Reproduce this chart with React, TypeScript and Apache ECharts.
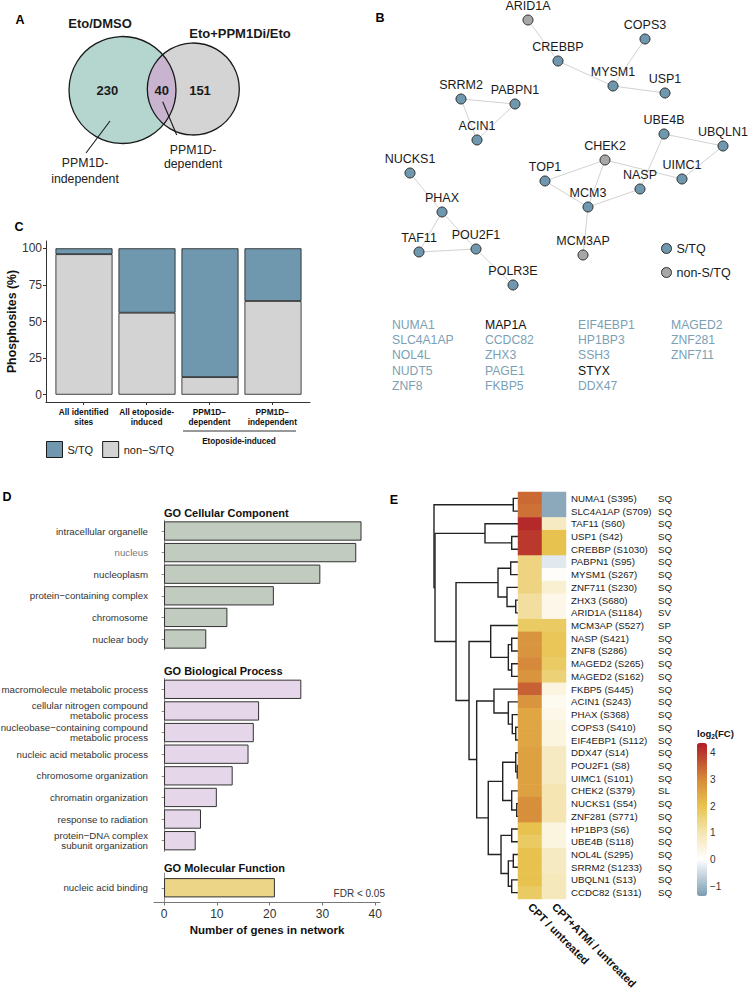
import React, { useEffect, useRef } from "react";
import * as echarts from "echarts";

const FONT = '"Liberation Sans", Arial, Helvetica, sans-serif';

/* ---------------- Panel A: Venn ---------------- */
const vennSetNames = ["Eto/DMSO", "Eto+PPM1Di/Eto"];
const vennRegionCounts = [230, 40, 151];
const vennNotes = ["PPM1D-\nindependent", "PPM1D-\ndependent"];

/* ---------------- Panel B: network ---------------- */
const netGenes = ["ARID1A", "COPS3", "CREBBP", "MYSM1", "USP1", "SRRM2", "PABPN1", "ACIN1", "UBE4B", "UBQLN1", "CHEK2", "TOP1", "UIMC1", "NASP", "MCM3", "MCM3AP", "NUCKS1", "PHAX", "TAF11", "POU2F1", "POLR3E"];
const netLayoutX = [158, 275, 188, 243, 295, 91, 145, 107, 294, 353, 235, 175, 312, 270, 218, 213, 40, 72, 49, 106, 143];
const netLayoutY = [20, 39, 61, 86, 93, 99, 104, 140, 134, 146, 160, 181, 179, 189, 207, 255, 173, 212, 252, 249, 285];
const netSiteType = ["non-S/TQ", "S/TQ", "S/TQ", "S/TQ", "S/TQ", "S/TQ", "S/TQ", "S/TQ", "S/TQ", "S/TQ", "non-S/TQ", "S/TQ", "S/TQ", "S/TQ", "S/TQ", "non-S/TQ", "S/TQ", "S/TQ", "S/TQ", "S/TQ", "S/TQ"];
const netEdges = [
  ["ARID1A", "CREBBP"], ["CREBBP", "MYSM1"], ["MYSM1", "COPS3"], ["MYSM1", "USP1"],
  ["SRRM2", "PABPN1"], ["SRRM2", "ACIN1"], ["PABPN1", "ACIN1"],
  ["UBE4B", "UBQLN1"], ["UBE4B", "NASP"], ["UBQLN1", "UIMC1"],
  ["CHEK2", "TOP1"], ["CHEK2", "MCM3"], ["CHEK2", "UIMC1"], ["TOP1", "MCM3"], ["MCM3", "NASP"], ["MCM3", "MCM3AP"],
  ["NUCKS1", "PHAX"], ["PHAX", "TAF11"], ["PHAX", "POU2F1"], ["TAF11", "POU2F1"], ["POU2F1", "POLR3E"],
];
const netLegendNames = ["S/TQ", "non-S/TQ"];
const isolatedGenes = ["NUMA1", "SLC4A1AP", "NOL4L", "NUDT5", "ZNF8", "MAP1A", "CCDC82", "ZHX3", "PAGE1", "FKBP5", "EIF4EBP1", "HP1BP3", "SSH3", "STYX", "DDX47", "MAGED2", "ZNF281", "ZNF711"];
const isolatedSiteType = ["S/TQ", "S/TQ", "S/TQ", "S/TQ", "S/TQ", "non-S/TQ", "S/TQ", "S/TQ", "S/TQ", "S/TQ", "S/TQ", "S/TQ", "S/TQ", "non-S/TQ", "S/TQ", "S/TQ", "S/TQ", "S/TQ"];

/* ---------------- Panel C: stacked bars ---------------- */
const cCategories = ["All identified\nsites", "All etoposide-\ninduced", "PPM1D\u2212\ndependent", "PPM1D\u2212\nindependent"];
const cSTQ = [4, 44, 88, 36];
const cNonSTQ = [96, 56, 12, 64];
const cSeriesNames = ["S/TQ", "non\u2212S/TQ"];
const cYTicks = [0, 25, 50, 75, 100];
const cGroupLabel = "Etoposide-induced";

/* ---------------- Panel D: GO bars ---------------- */
const ccTitle = "GO Cellular Component";
const ccTerms = ["intracellular organelle", "nucleus", "nucleoplasm", "protein\u2212containing complex", "chromosome", "nuclear body"];
const ccCounts = [37.4, 36.4, 29.6, 20.8, 12, 8];
const bpTitle = "GO Biological Process";
const bpTerms = ["macromolecule metabolic process", "cellular nitrogen compound\nmetabolic process", "nucleobase\u2212containing compound\nmetabolic process", "nucleic acid metabolic process", "chromosome organization", "chromatin organization", "response to radiation", "protein\u2212DNA complex\nsubunit organization"];
const bpCounts = [26, 18, 17, 16, 13, 10, 7, 6];
const mfTitle = "GO Molecular Function";
const mfTerms = ["nucleic acid binding"];
const mfCounts = [21];
const dXTicks = [0, 10, 20, 30, 40];
const dNote = "FDR < 0.05";
const dXName = "Number of genes in network";

/* ---------------- Panel E: heatmap ---------------- */
const heatCols = ["CPT / untreated", "CPT+ATMi / untreated"];
const heatRows = ["NUMA1 (S395)", "SLC4A1AP (S709)", "TAF11 (S60)", "USP1 (S42)", "CREBBP (S1030)", "PABPN1 (S95)", "MYSM1 (S267)", "ZNF711 (S230)", "ZHX3 (S680)", "ARID1A (S1184)", "MCM3AP (S527)", "NASP (S421)", "ZNF8 (S286)", "MAGED2 (S265)", "MAGED2 (S162)", "FKBP5 (S445)", "ACIN1 (S243)", "PHAX (S368)", "COPS3 (S410)", "EIF4EBP1 (S112)", "DDX47 (S14)", "POU2F1 (S8)", "UIMC1 (S101)", "CHEK2 (S379)", "NUCKS1 (S54)", "ZNF281 (S771)", "HP1BP3 (S6)", "UBE4B (S118)", "NOL4L (S295)", "SRRM2 (S1233)", "UBQLN1 (S13)", "CCDC82 (S131)"];
const heatMotifs = ["SQ", "SQ", "SQ", "SQ", "SQ", "SQ", "SQ", "SQ", "SQ", "SV", "SP", "SQ", "SQ", "SQ", "SQ", "SQ", "SQ", "SQ", "SQ", "SQ", "SQ", "SQ", "SQ", "SL", "SQ", "SQ", "SQ", "SQ", "SQ", "SQ", "SQ", "SQ"];
const cptVals = [3.4, 3.3, 4.2, 4.0, 4.0, 1.5, 1.5, 1.5, 1.2, 1.2, 1.8, 2.8, 2.8, 3.0, 2.8, 3.5, 2.8, 2.5, 2.5, 2.5, 2.6, 2.6, 2.6, 2.6, 2.9, 2.9, 2.0, 1.8, 2.0, 2.0, 2.0, 1.8];
const atmiVals = [-1.2, -1.2, 0.8, 2.0, 2.0, -0.3, 0.05, 0.6, 0.3, 0.3, 1.8, 1.9, 1.9, 1.8, 1.6, 0.4, 0.2, 0.3, 0.4, 0.4, 0.8, 0.8, 0.8, 1.0, 1.0, 1.0, 0.4, 0.4, 0.8, 0.8, 0.9, 0.9];
// hclust-style merges: negative = leaf (row index + 1), positive = earlier merge id; [a, b, height]
const dendroMerges: [number, number, number][] = [
  [-1, -2, 0.56], [-4, -5, 0.75], [-3, 2, 3.93], [-6, -7, 0.87], [-9, -10, 0.27],
  [-8, 5, 1.31], [4, 6, 2.38], [-12, -13, 0.75], [-14, -15, 0.75], [8, 9, 1.15],
  [-11, 10, 3.25], [-19, -20, 0.27], [-18, 12, 0.68], [-17, 13, 1.15], [-16, 14, 2.86],
  [-22, -23, 0.08], [-21, 16, 0.27], [-25, -26, 0.15], [-24, 18, 0.75], [17, 19, 1.82],
  [-27, -28, 0.75], [-29, -30, 0.56], [-31, -32, 0.75], [22, 23, 1.15], [21, 24, 2.02],
  [20, 25, 3.54], [15, 26, 4.92], [11, 27, 5.83], [7, 28, 7.38], [3, 29, 9.88], [1, 30, 10],
];
const heatScaleMin = -1.37;
const heatScaleMax = 4.36;
const colorbarTicks = [-1, 0, 1, 2, 3, 4];
const colorbarTitle = "log{s|2}(FC)";

/* ---------------- styling helpers ---------------- */
const colorStops: [number, string][] = [
  [-1.37, "#7b9db2"], [0, "#ffffff"], [1, "#f4e5b3"], [2, "#e8c34d"], [3, "#d6893a"], [4.36, "#b01c27"],
];
function hexToRgb(h: string) {
  return [parseInt(h.slice(1, 3), 16), parseInt(h.slice(3, 5), 16), parseInt(h.slice(5, 7), 16)];
}
function colorAt(v: number) {
  for (let i = 0; i < colorStops.length - 1; i++) {
    const [v0, c0] = colorStops[i];
    const [v1, c1] = colorStops[i + 1];
    if (v <= v1 || i === colorStops.length - 2) {
      const t = Math.max(0, Math.min(1, (v - v0) / (v1 - v0)));
      const a = hexToRgb(c0), b = hexToRgb(c1);
      const m = a.map((x, k) => Math.round(x + (b[k] - x) * t));
      return `rgb(${m[0]},${m[1]},${m[2]})`;
    }
  }
  return colorStops[0][1];
}
function ramp(n: number) {
  const out: string[] = [];
  for (let i = 0; i < n; i++) out.push(colorAt(heatScaleMin + ((heatScaleMax - heatScaleMin) * i) / (n - 1)));
  return out;
}

const VC1 = { cx: 122.5, cy: 90, r: 53.5 };
const VC2 = { cx: 193.3, cy: 89, r: 46 };
function lensPath() {
  const dx = VC2.cx - VC1.cx, dy = VC2.cy - VC1.cy;
  const d = Math.hypot(dx, dy);
  const a = (d * d + VC1.r * VC1.r - VC2.r * VC2.r) / (2 * d);
  const h = Math.sqrt(VC1.r * VC1.r - a * a);
  const px = VC1.cx + (a * dx) / d, py = VC1.cy + (a * dy) / d;
  const ox = (-dy / d) * h, oy = (dx / d) * h;
  const p1 = [px + ox, py + oy], p2 = [px - ox, py - oy];
  const top = p1[1] < p2[1] ? p1 : p2;
  const bot = top === p1 ? p2 : p1;
  return `M${top[0]} ${top[1]} A${VC2.r} ${VC2.r} 0 0 0 ${bot[0]} ${bot[1]} A${VC1.r} ${VC1.r} 0 0 0 ${top[0]} ${top[1]} Z`;
}
echarts.graphic.registerShape("vennLens", echarts.graphic.extendPath(lensPath(), {}));

function txt(x: number, y: number, text: string, size: number, o: any = {}) {
  const align = o.align || "center";
  return {
    type: "text", x, y, silent: true, z: 10,
    style: {
      text, fontSize: size, fontFamily: FONT, fontWeight: o.weight || "normal", fill: o.color || "#1a1a1a",
      align, textAlign: align, verticalAlign: "middle", textVerticalAlign: "middle",
      lineHeight: o.lineHeight, rich: o.rich,
    },
  };
}

function dendroLines() {
  const nodeY: number[] = [];
  const nodeH: number[] = [];
  const pos = (ref: number) => (ref < 0 ? { y: -ref - 1, h: 0 } : { y: nodeY[ref - 1], h: nodeH[ref - 1] });
  const lines: any[] = [];
  dendroMerges.forEach(([a, b, h]) => {
    const A = pos(a), B = pos(b);
    lines.push({ coords: [[A.h, A.y], [h, A.y], [h, B.y], [B.h, B.y]] });
    nodeY.push((A.y + B.y) / 2);
    nodeH.push(h);
  });
  return lines;
}

function buildOption() {
  const STQ = "#6f97ad";
  const NONSTQ_NET = "#a7a7a7";
  const graphic: any[] = [];

  // panel letters
  graphic.push(txt(20, 20, "A", 12.5, { weight: "bold", color: "#000" }));
  graphic.push(txt(380, 18, "B", 12.5, { weight: "bold", color: "#000" }));
  graphic.push(txt(19, 227, "C", 12.5, { weight: "bold", color: "#000" }));
  graphic.push(txt(7, 497, "D", 12.5, { weight: "bold", color: "#000" }));
  graphic.push(txt(394, 500, "E", 12.5, { weight: "bold", color: "#000" }));

  // Venn
  graphic.push({ type: "circle", shape: { cx: VC1.cx, cy: VC1.cy, r: VC1.r }, style: { fill: "#b5d6cf" }, silent: true });
  graphic.push({ type: "circle", shape: { cx: VC2.cx, cy: VC2.cy, r: VC2.r }, style: { fill: "#d4d4d4" }, silent: true });
  graphic.push({ type: "vennLens", x: 0, y: 0, style: { fill: "#c9b4cf" }, silent: true });
  graphic.push({ type: "circle", shape: { cx: VC1.cx, cy: VC1.cy, r: VC1.r }, style: { fill: "none", stroke: "#1a1a1a", lineWidth: 1.3 }, silent: true });
  graphic.push({ type: "circle", shape: { cx: VC2.cx, cy: VC2.cy, r: VC2.r }, style: { fill: "none", stroke: "#1a1a1a", lineWidth: 1.3 }, silent: true });
  graphic.push(txt(100, 23, vennSetNames[0], 13, { weight: "bold" }));
  graphic.push(txt(240, 33, vennSetNames[1], 13, { weight: "bold" }));
  graphic.push(txt(107.3, 90, String(vennRegionCounts[0]), 13, { weight: "bold" }));
  graphic.push(txt(161.7, 90, String(vennRegionCounts[1]), 13, { weight: "bold" }));
  graphic.push(txt(200, 90, String(vennRegionCounts[2]), 13, { weight: "bold" }));
  graphic.push({ type: "line", shape: { x1: 110, y1: 121, x2: 86, y2: 153 }, style: { stroke: "#1a1a1a", lineWidth: 1.1 }, silent: true });
  graphic.push({ type: "line", shape: { x1: 162.7, y1: 101.7, x2: 176.7, y2: 135 }, style: { stroke: "#1a1a1a", lineWidth: 1.1 }, silent: true });
  graphic.push(txt(85, 171, vennNotes[0], 12.3, { lineHeight: 15.5, color: "#222" }));
  graphic.push(txt(193, 157, vennNotes[1], 12.3, { lineHeight: 14.5, color: "#222" }));

  // isolated genes list (panel B)
  isolatedGenes.forEach((g, i) => {
    const col = Math.floor(i / 5), row = i % 5;
    graphic.push(txt(392 + col * 93, 325 + row * 15.2, g, 12.2, { align: "left", color: isolatedSiteType[i] === "S/TQ" ? "#7b9fb5" : "#111" }));
  });

  // Panel C group bracket
  graphic.push({ type: "line", shape: { x1: 183, y1: 431, x2: 296, y2: 431 }, style: { stroke: "#333", lineWidth: 1 }, silent: true });
  graphic.push(txt(239, 441, cGroupLabel, 8.2, { weight: "bold", color: "#111" }));

  // Panel D facet titles & note
  graphic.push(txt(164, 513, ccTitle, 11, { weight: "bold", align: "left", color: "#111" }));
  graphic.push(txt(164, 671, bpTitle, 11, { weight: "bold", align: "left", color: "#111" }));
  graphic.push(txt(164, 868, mfTitle, 11, { weight: "bold", align: "left", color: "#111" }));
  graphic.push(txt(385, 893, dNote, 10, { align: "right", color: "#333" }));

  // Panel E colorbar title
  graphic.push(txt(697, 733, colorbarTitle, 9.5, {
    weight: "bold", align: "left", color: "#111",
    rich: { s: { fontSize: 6.5, fontWeight: "bold", fontFamily: FONT, fill: "#111", padding: [6, 0, 0, 0] } },
  }));

  const gridBase = { containLabel: false, outerBoundsMode: "none" };
  const hiddenValueAxis = (gridIndex: number, min: number, max: number, inverse = false) => ({
    type: "value", gridIndex, min, max, inverse, show: false, splitLine: { show: false },
  });

  const dYAxis = (gridIndex: number, terms: string[]) => ({
    type: "category", gridIndex, inverse: true,
    data: terms.map((t) => (t === "nucleus" ? { value: t, textStyle: { color: "#777" } } : t)),
    axisLine: { show: true, lineStyle: { color: "#8a8a8a", width: 1 } },
    axisTick: { show: true, alignWithLabel: true, length: 2.5, lineStyle: { color: "#8a8a8a" } },
    axisLabel: { fontSize: 9.7, color: "#333", margin: 6, lineHeight: 10, fontFamily: FONT, interval: 0 },
    splitLine: { show: false },
  });

  const dBar = (idx: number, data: number[], color: string) => ({
    type: "bar", xAxisIndex: idx, yAxisIndex: idx, data, barWidth: 19.3, silent: true,
    itemStyle: { color, borderColor: "#333", borderWidth: 1 },
  });

  return {
    animation: false,
    backgroundColor: "#ffffff",
    textStyle: { fontFamily: FONT },
    grid: [
      { ...gridBase, left: 46, top: 241, width: 264, height: 161 },
      { ...gridBase, left: 154, top: 520.2, width: 226, height: 129.6 },
      { ...gridBase, left: 154, top: 678.5, width: 226, height: 173 },
      { ...gridBase, left: 154, top: 873, width: 226, height: 29.5 },
      { ...gridBase, left: 370, top: 0, width: 378, height: 300 },
      { ...gridBase, left: 434, top: 492, width: 84, height: 407 },
      { ...gridBase, left: 518, top: 492, width: 48, height: 407 },
      { ...gridBase, left: 697, top: 743, width: 10, height: 153 },
      { ...gridBase, left: 52.5, top: 241, width: 252, height: 161 },
    ],
    xAxis: [
      {
        type: "value", gridIndex: 0, min: 0.4, max: 4.6,
        axisLine: { show: true, onZero: false, lineStyle: { color: "#333", width: 1 } },
        axisTick: { show: true, customValues: [1, 2, 3, 4], length: 3, lineStyle: { color: "#333" } },
        axisLabel: { customValues: [1, 2, 3, 4], formatter: (v: number) => cCategories[Math.round(v) - 1], fontSize: 8.3, fontWeight: "bold", color: "#111", lineHeight: 10, margin: 5 },
        splitLine: { show: false },
      },
      hiddenValueAxis(1, -1.9, 40.9),
      hiddenValueAxis(2, -1.9, 40.9),
      {
        type: "value", gridIndex: 3, min: -1.9, max: 40.9,
        axisLine: { show: true, onZero: false, lineStyle: { color: "#777", width: 1 } },
        axisTick: { show: true, customValues: dXTicks, length: 3, lineStyle: { color: "#777" } },
        axisLabel: { customValues: dXTicks, fontSize: 12, color: "#333", margin: 5 },
        splitLine: { show: false },
        name: dXName, nameLocation: "middle", nameGap: 21,
        nameTextStyle: { fontSize: 11.5, fontWeight: "bold", color: "#111" },
      },
      hiddenValueAxis(4, 0, 378),
      hiddenValueAxis(5, 0, 10, true),
      {
        type: "category", gridIndex: 6, data: heatCols,
        axisLine: { show: false }, axisTick: { show: false },
        axisLabel: { rotate: -45, interval: 0, fontSize: 11, fontWeight: "bold", color: "#111", margin: 6 },
        splitLine: { show: false },
      },
      hiddenValueAxis(7, 0, 1),
      { type: "category", gridIndex: 8, data: cCategories, show: false, boundaryGap: true },
    ],
    yAxis: [
      {
        type: "value", gridIndex: 0, min: -5, max: 105,
        axisLine: { show: true, onZero: false, lineStyle: { color: "#333", width: 1 } },
        axisTick: { show: true, customValues: cYTicks, length: 3, lineStyle: { color: "#333" } },
        axisLabel: { customValues: cYTicks, fontSize: 12, color: "#333", margin: 4 },
        splitLine: { show: false },
        name: "Phosphosites (%)", nameLocation: "middle", nameGap: 26,
        nameTextStyle: { fontSize: 12.3, fontWeight: "bold", color: "#111" },
      },
      dYAxis(1, ccTerms),
      dYAxis(2, bpTerms),
      dYAxis(3, mfTerms),
      hiddenValueAxis(4, 0, 300, true),
      hiddenValueAxis(5, -0.5, heatRows.length - 0.5, true),
      {
        type: "category", gridIndex: 6, data: heatRows, inverse: true, position: "right",
        axisLine: { show: false }, axisTick: { show: false },
        axisLabel: { fontSize: 9.7, color: "#1a1a1a", margin: 5, interval: 0 },
        splitLine: { show: false },
      },
      {
        type: "value", gridIndex: 6, min: -0.5, max: heatRows.length - 0.5, inverse: true, position: "right", offset: 87,
        axisLine: { show: false }, axisTick: { show: false },
        axisLabel: { customValues: heatMotifs.map((_, i) => i), formatter: (v: number) => heatMotifs[Math.round(v)], fontSize: 9.7, color: "#1a1a1a", margin: 5 },
        splitLine: { show: false },
      },
      {
        type: "value", gridIndex: 7, min: heatScaleMin, max: heatScaleMax, position: "right",
        axisLine: { show: false }, axisTick: { show: false },
        axisLabel: { customValues: colorbarTicks, formatter: (v: number) => (v < 0 ? "\u2212" + Math.abs(v) : String(v)), fontSize: 10, color: "#333", margin: 3 },
        splitLine: { show: false },
      },
      hiddenValueAxis(8, -5, 105),
    ],
    legend: [
      {
        data: cSeriesNames, left: 46, top: 441, itemWidth: 16, itemHeight: 16, itemGap: 9, icon: "rect",
        selectedMode: false, padding: 0,
        itemStyle: { borderColor: "#1a1a1a", borderWidth: 1 },
        textStyle: { fontSize: 11, color: "#1a1a1a", fontFamily: FONT },
      },
      {
        data: netLegendNames.map((n) => "net:" + n), formatter: (n: string) => n.replace("net:", ""),
        orient: "vertical", left: 661, top: 242, itemWidth: 10, itemHeight: 10, itemGap: 11, icon: "circle",
        selectedMode: false, padding: 0,
        itemStyle: { borderColor: "#2b2b2b", borderWidth: 1 },
        textStyle: { fontSize: 12.5, color: "#1a1a1a", fontFamily: FONT },
      },
    ],
    visualMap: {
      type: "continuous", min: heatScaleMin, max: heatScaleMax, seriesIndex: 7, dimension: 2,
      orient: "vertical", left: 697, top: 743, itemWidth: 10, itemHeight: 153, padding: 0,
      calculable: false, hoverLink: false, realtime: false,
      inRange: { color: ramp(60) },
      textStyle: { fontSize: 10, color: "#333" },
    },
    graphic: { elements: graphic },
    series: [
      {
        type: "bar", name: cSeriesNames[1], xAxisIndex: 8, yAxisIndex: 9, stack: "c", barWidth: 57, silent: true,
        data: cNonSTQ,
        itemStyle: { color: "#d3d3d3", borderColor: "#1a1a1a", borderWidth: 0.8 },
      },
      {
        type: "bar", name: cSeriesNames[0], xAxisIndex: 8, yAxisIndex: 9, stack: "c", barWidth: 57, silent: true,
        data: cSTQ,
        itemStyle: { color: STQ, borderColor: "#1a1a1a", borderWidth: 0.8 },
      },
      dBar(1, ccCounts, "#c2cbbf"),
      dBar(2, bpCounts, "#e6d6e9"),
      dBar(3, mfCounts, "#edd587"),
      {
        type: "graph", coordinateSystem: "cartesian2d", xAxisIndex: 4, yAxisIndex: 4, silent: true,
        symbolSize: 10, roam: false,
        categories: [
          { name: "net:" + netLegendNames[0], itemStyle: { color: STQ } },
          { name: "net:" + netLegendNames[1], itemStyle: { color: NONSTQ_NET } },
        ],
        data: netGenes.map((g, i) => ({ name: g, value: [netLayoutX[i], netLayoutY[i]], category: netSiteType[i] === "S/TQ" ? 0 : 1 })),
        links: netEdges.map(([s, t]) => ({ source: s, target: t })),
        itemStyle: { borderColor: "#2b2b2b", borderWidth: 1 },
        lineStyle: { color: "#d2d2d2", width: 1, opacity: 1, curveness: 0 },
        label: { show: true, position: "top", distance: 2, fontSize: 12.5, color: "#1a1a1a", fontFamily: FONT },
        emphasis: { disabled: true },
      },
      {
        type: "lines", coordinateSystem: "cartesian2d", xAxisIndex: 5, yAxisIndex: 5, polyline: true, silent: true,
        data: dendroLines(),
        lineStyle: { color: "#222", width: 1.4, opacity: 1 },
      },
      {
        type: "heatmap", xAxisIndex: 6, yAxisIndex: 6, silent: true,
        data: heatRows.flatMap((_, r) => [[0, r, cptVals[r]], [1, r, atmiVals[r]]]),
        itemStyle: { borderWidth: 0 },
        emphasis: { disabled: true },
      },
    ],
  };
}

export default function App() {
  const ref = useRef<HTMLDivElement>(null);
  useEffect(() => {
    if (!ref.current) return;
    const chart = echarts.init(ref.current, null, { renderer: "svg" });
    chart.setOption(buildOption() as any);
    return () => chart.dispose();
  }, []);
  return (
    <div
      ref={ref}
      style={{ position: "absolute", left: 0, top: 0, width: 748, height: 992, background: "#fff" }}
    />
  );
}
